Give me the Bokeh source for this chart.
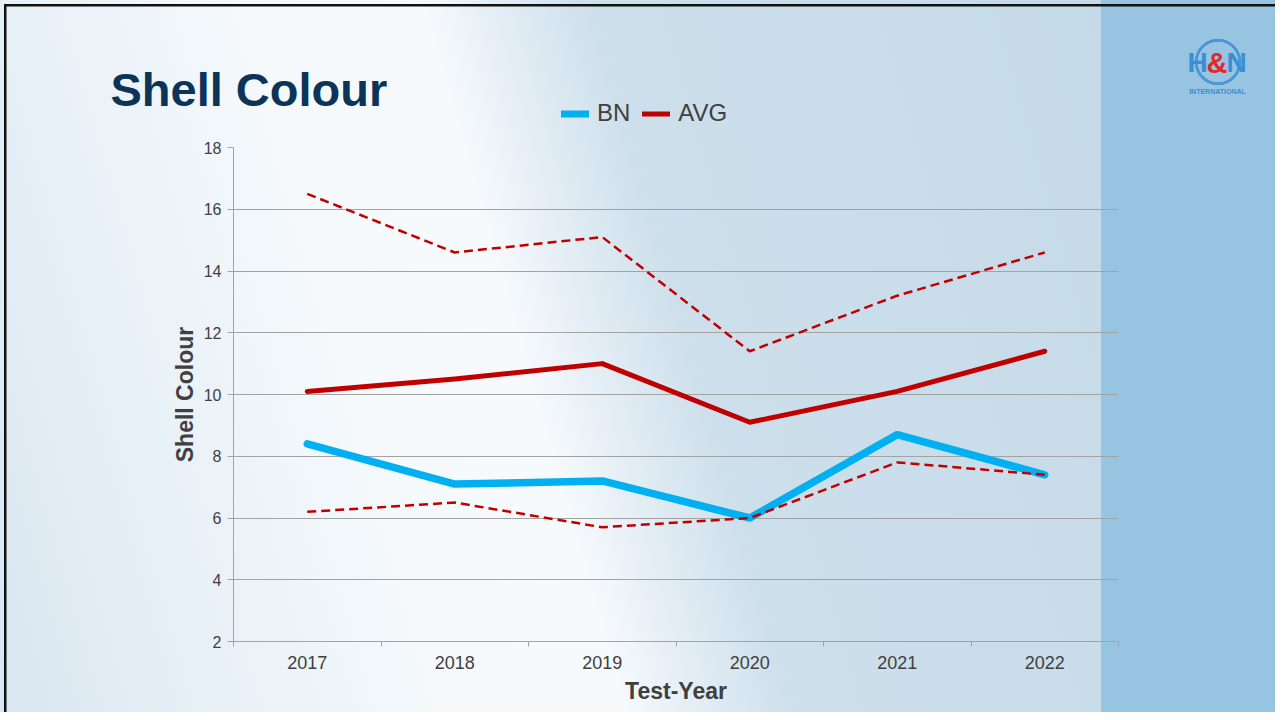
from bokeh.plotting import figure
from bokeh.layouts import column
from bokeh.models import Range1d, FixedTicker, Legend, LegendItem, Label
from bokeh.embed import file_html
from bokeh.resources import INLINE

# ---------------- data ----------------
categories = ["2017", "2018", "2019", "2020", "2021", "2022"]
bn = [8.4, 7.1, 7.2, 6.0, 8.7, 7.4]
avg = [10.1, 10.5, 11.0, 9.1, 10.1, 11.4]
avg_upper = [16.5, 14.6, 15.1, 11.4, 13.2, 14.6]
avg_lower = [6.2, 6.5, 5.7, 6.0, 7.8, 7.4]
y_ticks = [2, 4, 6, 8, 10, 12, 14, 16, 18]
y_min, y_max = 2, 18
series_names = ["BN", "AVG"]
series_colors = ["#00b0f0", "#c00000"]

# ---------------- layout (pixels) ----------------
W = 1275
TOP_H = 130               # header strip (title, legend, logo)
CH_H = 582                # chart figure height
FL, FR, FT, FB = 233, 1118, 147, 641   # plot frame position in the whole

FONT = "Liberation Sans"
TXT = "#404040"
GRID = "#a3a3a3"

x = [i + 0.5 for i in range(len(categories))]

# ---------------- header figure ----------------
top = figure(width=W, height=TOP_H, output_backend="svg", toolbar_location=None,
             x_range=Range1d(0, W), y_range=Range1d(TOP_H, 0),
             x_axis_type=None, y_axis_type=None,
             min_border=0, min_border_left=0, min_border_right=0,
             min_border_top=0, min_border_bottom=0)
top.frame_align = False
top.background_fill_alpha = 0
top.border_fill_alpha = 0
top.outline_line_color = None
top.xgrid.visible = False
top.ygrid.visible = False


def hdr_label(text, px, py, **kw):
    top.add_layout(Label(text=text, x=px, y=py, text_font=FONT,
                         text_baseline="alphabetic", **kw))


hdr_label("Shell Colour", 110, 89, text_font_size="47px", text_font_style="bold",
          text_color="#0c3458")
# logo
hdr_label("H", 1187, 62, text_font_size="28px", text_font_style="bold", text_color="#3b8fd7")
hdr_label("N", 1226, 62, text_font_size="28px", text_font_style="bold", text_color="#3b8fd7")
hdr_label("&", 1206, 62, text_font_size="29px", text_font_style="bold", text_color="#e3262b")
hdr_label("INTERNATIONAL", 1217, 91, text_font_size="7px", text_font_style="bold",
          text_color="#3b8fd7", text_align="center")

# legend proxies: the same series on a range where they fall outside the header frame
top.extra_x_ranges = {"proxy": Range1d(0, len(categories))}
top.extra_y_ranges = {"proxy": Range1d(y_max + 100, y_max + 200)}
leg_bn = top.line(x, bn, line_color=series_colors[0], line_width=7, line_cap="round",
                  x_range_name="proxy", y_range_name="proxy")
leg_avg = top.line(x, avg, line_color=series_colors[1], line_width=5, line_cap="round",
                   x_range_name="proxy", y_range_name="proxy")
legend = Legend(items=[LegendItem(label=series_names[0], renderers=[leg_bn]),
                       LegendItem(label=series_names[1], renderers=[leg_avg])],
                orientation="horizontal",
                location=(561, TOP_H - 127),
                glyph_width=28, glyph_height=27, label_height=27,
                label_standoff=8, spacing=12, padding=0, margin=0,
                border_line_color=None, background_fill_alpha=0,
                label_text_font=FONT, label_text_font_size="24px",
                label_text_color=TXT)
top.add_layout(legend, "center")

# ---------------- chart figure ----------------
p = figure(width=W, height=CH_H, output_backend="svg", toolbar_location=None,
           x_range=Range1d(0, len(categories)), y_range=Range1d(y_min, y_max),
           min_border_left=FL, min_border_right=W - FR,
           min_border_top=FT - TOP_H, min_border_bottom=TOP_H + CH_H - FB)
p.frame_align = False
p.background_fill_alpha = 0
p.border_fill_alpha = 0
p.outline_line_color = None

xa = p.xaxis[0]
xa.ticker = FixedTicker(ticks=x, minor_ticks=list(range(len(categories) + 1)))
xa.major_label_overrides = {xi: c for xi, c in zip(x, categories)}
xa.major_tick_line_color = None
xa.major_tick_out = 5
xa.major_tick_in = 0
xa.minor_tick_line_color = GRID
xa.minor_tick_out = 5
xa.minor_tick_in = 0
xa.axis_line_color = GRID
xa.major_label_standoff = 9
xa.major_label_text_font = FONT
xa.major_label_text_font_size = "18px"
xa.major_label_text_color = TXT
xa.axis_label = "Test-Year"
xa.axis_label_text_font = FONT
xa.axis_label_text_font_size = "23px"
xa.axis_label_text_font_style = "bold"
xa.axis_label_text_color = TXT
xa.axis_label_standoff = 6

ya = p.yaxis[0]
ya.ticker = FixedTicker(ticks=y_ticks)
ya.minor_tick_line_color = None
ya.major_tick_line_color = GRID
ya.major_tick_out = 6
ya.major_tick_in = 0
ya.axis_line_color = GRID
ya.major_label_standoff = 6
ya.major_label_text_font = FONT
ya.major_label_text_font_size = "16px"
ya.major_label_text_color = TXT
ya.axis_label = "Shell Colour"
ya.axis_label_text_font = FONT
ya.axis_label_text_font_size = "23px"
ya.axis_label_text_font_style = "bold"
ya.axis_label_text_color = TXT
ya.axis_label_standoff = 3

p.xgrid.grid_line_color = None
p.ygrid.ticker = FixedTicker(ticks=y_ticks)
p.ygrid.grid_line_color = GRID
p.ygrid.grid_line_width = 1

p.line(x, bn, line_color=series_colors[0], line_width=7.5, line_cap="round", line_join="round")
p.line(x, avg, line_color=series_colors[1], line_width=5, line_cap="round", line_join="round")
p.line(x, avg_upper, line_color=series_colors[1], line_width=2.5, line_dash="9 5")
p.line(x, avg_lower, line_color=series_colors[1], line_width=2.5, line_dash="9 5")

# ---------------- slide background (CSS on the container) ----------------
layout = column(top, p, spacing=0)
rx, ry = 1218, 62
layout.styles = {
    "margin-bottom": "-8px",
    "margin-right": "-8px",
    "background-image": ", ".join([
        "linear-gradient(#111, #111)",
        "linear-gradient(#111, #111)",
        f"radial-gradient(circle at {rx}px {ry}px, rgba(0,0,0,0) 20px, #4b97d7 20.5px, #4b97d7 23px, rgba(0,0,0,0) 23.5px)",
        "linear-gradient(to right, rgba(0,0,0,0) 1101px, #96c4e1 1101px)",
        "linear-gradient(74deg, #d9e6f0 0%, #e8f1f7 16%, #f5f9fc 30%, #f7fafd 42%, #e4eef5 47%, #cddfeb 54%, #c2d8e7 100%)",
    ]),
    "background-position": "4px 4px, 4px 4px, 0 0, 0 0, 0 0",
    "background-size": "2.5px 720px, 1280px 2.5px, 100% 100%, 100% 100%, 100% 100%",
    "background-repeat": "no-repeat",
}

open("out.html", "w").write(file_html(layout, INLINE))
